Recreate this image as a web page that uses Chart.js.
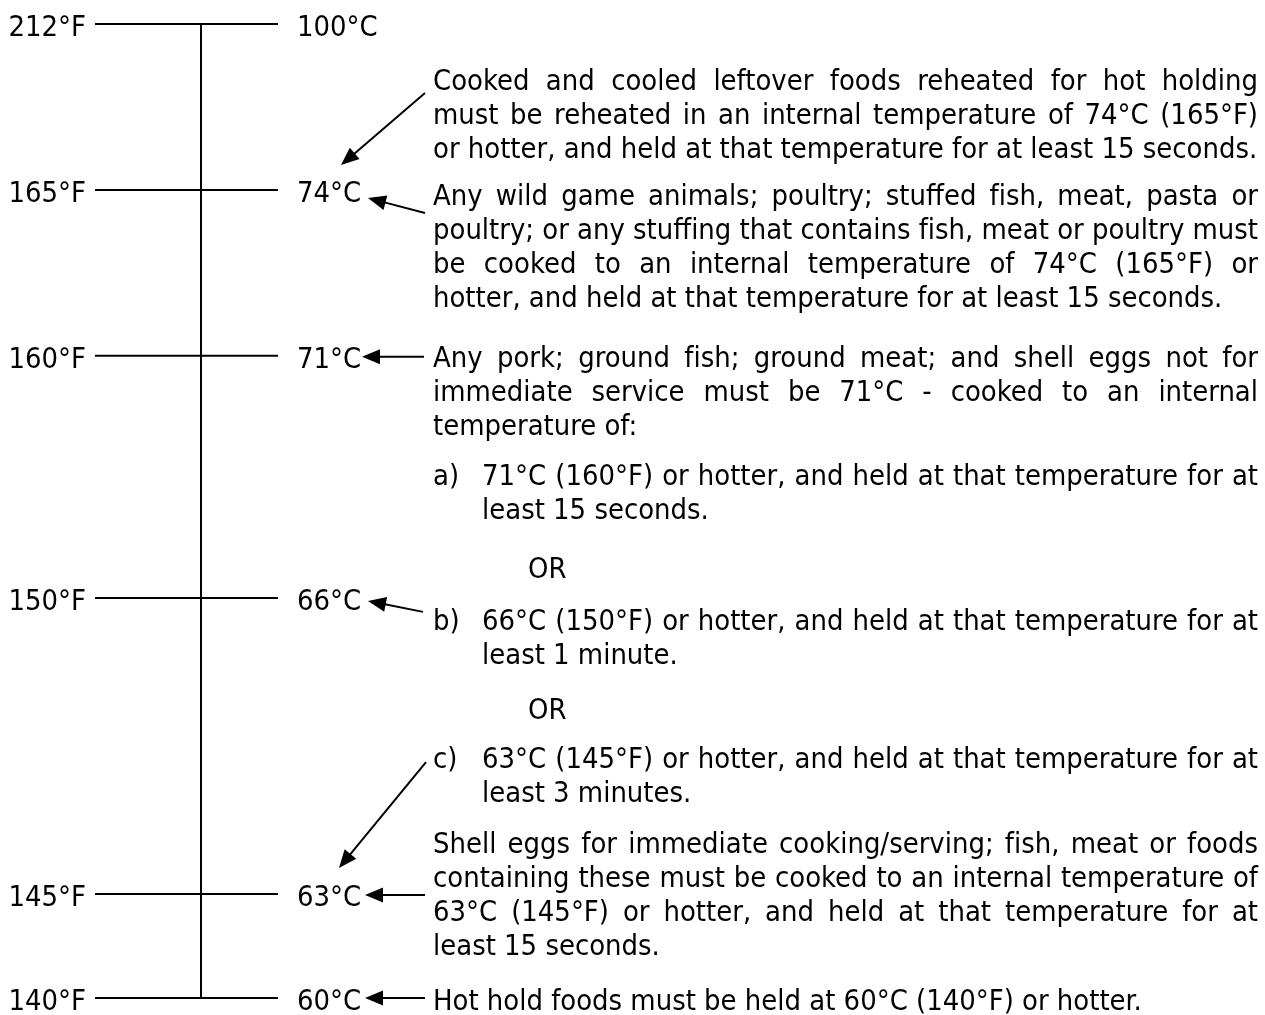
<!DOCTYPE html>
<html>
<head>
<meta charset="utf-8">
<script src="https://cdn.jsdelivr.net/npm/chart.js@4/dist/chart.umd.min.js"></script>
<style>
  html, body { margin: 0; padding: 0; background: #fff; }
  canvas { display: block; }
</style>
</head>
<body>
<canvas id="myChart" width="1265" height="1015"></canvas>
<script>
// temperature levels, top to bottom
var fahrenheit = ["212°F", "165°F", "160°F", "150°F", "145°F", "140°F"];
var celsius = ["100°C", "74°C", "71°C", "66°C", "63°C", "60°C"];
// where each level sits on the row scale (1 row = one text line)
var levelRow = [0, 4.88, 9.76, 16.88, 25.59, 28.65];

// the notes, one array of lines per block
var notes = [
  ["Cooked and cooled leftover foods reheated for hot holding",
   "must be reheated in an internal temperature of 74°C (165°F)",
   "or hotter, and held at that temperature for at least 15 seconds."],
  ["Any wild game animals; poultry; stuffed fish, meat, pasta or",
   "poultry; or any stuffing that contains fish, meat or poultry must",
   "be cooked to an internal temperature of 74°C (165°F) or",
   "hotter, and held at that temperature for at least 15 seconds."],
  ["Any pork; ground fish; ground meat; and shell eggs not for",
   "immediate service must be 71°C - cooked to an internal",
   "temperature of:"],
  ["71°C (160°F) or hotter, and held at that temperature for at",
   "least 15 seconds."],
  ["OR"],
  ["66°C (150°F) or hotter, and held at that temperature for at",
   "least 1 minute."],
  ["OR"],
  ["63°C (145°F) or hotter, and held at that temperature for at",
   "least 3 minutes."],
  ["Shell eggs for immediate cooking/serving; fish, meat or foods",
   "containing these must be cooked to an internal temperature of",
   "63°C (145°F) or hotter, and held at that temperature for at",
   "least 15 seconds."],
  ["Hot hold foods must be held at 60°C (140°F) or hotter."]
];
var noteMarker = ["", "", "", "a)", "", "b)", "", "c)", "", ""];

// layout of the blocks
var noteRow = [1.94, 5.32, 10.09, 13.56, 16.29, 17.82, 20.44, 21.88, 24.38, 29.0];
var noteLeft = [433, 433, 433, 482, 528, 482, 528, 482, 433, 433];
var noteRight = 1258;
var markerLeft = 433;

// arrows: from the note to the celsius label  [x, row]
var arrowFrom = [[425, 2.03], [425, 5.56], [424, 9.79], [423, 17.29], [426, 21.71], [425, 25.62], [425, 28.65]];
var arrowTo = [[341, 4.15], [368, 5.12], [362, 9.79], [368, 16.97], [339, 24.82], [365, 25.62], [365, 28.65]];

var rungX = [95, 278];
var spineX = 201;
var fLabelX = 86;
var cLabelX = 297;
var labelDrop = 0.35;

var family = 'Tahoma, "DejaVu Sans Condensed", "DejaVu Sans", sans-serif';
var fontPx = 27.5;
var hotLineWidth = 714; // width of the last note line in the original
var hs = 1;

// no fi / fl ligatures, like the original
function plain(s) { return s.replace(/f(?=[il])/g, "f\u200C"); }
function tw(ctx, s) { return ctx.measureText(plain(s)).width * hs; }
// draw text squeezed horizontally by hs (or k)
function put(ctx, s, x, y, k) {
  ctx.save();
  ctx.translate(x, y);
  ctx.scale(k || hs, 1);
  ctx.fillText(plain(s), 0, 0);
  ctx.restore();
}

function drawLine(ctx, text, x0, yb, width, justify) {
  var natural = tw(ctx, text);
  if (!justify) {
    put(ctx, text, x0, yb, natural > width ? hs * width / natural : hs);
    return;
  }
  var words = text.split(" ");
  var ws = words.map(function (w) { return tw(ctx, w); });
  var total = ws.reduce(function (a, b) { return a + b; }, 0);
  var gap = (width - total) / (words.length - 1);
  if (gap < tw(ctx, " ") * 0.5) {
    put(ctx, text, x0, yb, hs * width / natural);
    return;
  }
  var cx = x0;
  words.forEach(function (w, i) {
    put(ctx, w, cx, yb);
    cx += ws[i] + gap;
  });
}

var diagramPlugin = {
  id: "diagram",
  afterDatasetsDraw: function (chart) {
    var ctx = chart.ctx;
    var xs = chart.scales.x, ys = chart.scales.y;
    var px = function (v) { return xs.getPixelForValue(v); };
    var py = function (v) { return ys.getPixelForValue(v); };
    ctx.save();
    ctx.fillStyle = "#000";
    ctx.strokeStyle = "#000";
    ctx.font = fontPx + "px " + family;
    ctx.textBaseline = "alphabetic";
    hs = 1;
    hs = Math.max(0.85, Math.min(1.05, hotLineWidth / tw(ctx, notes[9][0])));

    // level labels
    levelRow.forEach(function (r, i) {
      ctx.textAlign = "right";
      put(ctx, fahrenheit[i], px(fLabelX), py(r + labelDrop));
      ctx.textAlign = "left";
      put(ctx, celsius[i], px(cLabelX), py(r + labelDrop));
    });

    // notes
    ctx.textAlign = "left";
    notes.forEach(function (lines, b) {
      if (noteMarker[b]) put(ctx, noteMarker[b], px(markerLeft), py(noteRow[b]));
      var left = px(noteLeft[b]);
      var width = px(noteRight) - left;
      lines.forEach(function (line, k) {
        var last = k === lines.length - 1;
        drawLine(ctx, line, left, py(noteRow[b] + k), width, !last);
      });
    });

    // arrows
    ctx.lineWidth = 2;
    arrowFrom.forEach(function (f, i) {
      var x0 = px(f[0]), y0 = py(f[1]);
      var x1 = px(arrowTo[i][0]), y1 = py(arrowTo[i][1]);
      var a = Math.atan2(y1 - y0, x1 - x0);
      var len = 18, half = 7.5;
      ctx.beginPath();
      ctx.moveTo(x0, y0);
      ctx.lineTo(x1 - Math.cos(a) * (len - 2), y1 - Math.sin(a) * (len - 2));
      ctx.stroke();
      var bx = x1 - Math.cos(a) * len, by = y1 - Math.sin(a) * len;
      ctx.beginPath();
      ctx.moveTo(x1, y1);
      ctx.lineTo(bx + Math.sin(a) * half, by - Math.cos(a) * half);
      ctx.lineTo(bx - Math.sin(a) * half, by + Math.cos(a) * half);
      ctx.closePath();
      ctx.fill();
    });
    ctx.restore();
  }
};

// the ladder: one dataset per rung plus the spine
var datasets = levelRow.map(function (r, i) {
  return {
    label: fahrenheit[i] + " / " + celsius[i],
    data: [{ x: rungX[0], y: r }, { x: rungX[1], y: r }]
  };
});
datasets.push({
  label: "spine",
  data: [{ x: spineX, y: levelRow[0] }, { x: spineX, y: levelRow[levelRow.length - 1] }]
});
datasets.forEach(function (d) {
  d.borderColor = "#000";
  d.borderWidth = 2;
  d.pointRadius = 0;
  d.fill = false;
  d.tension = 0;
});

var ctx = document.getElementById("myChart").getContext("2d");
var myChart = new Chart(ctx, {
  type: "line",
  data: { datasets: datasets },
  options: {
    responsive: false,
    animation: false,
    layout: { padding: 0, autoPadding: false },
    plugins: { legend: { display: false }, tooltip: { enabled: false } },
    events: [],
    scales: {
      x: { type: "linear", min: 0, max: 1265, display: false },
      y: { type: "linear", min: -24 / 34, max: (1015 - 24) / 34, reverse: true, display: false }
    }
  },
  plugins: [diagramPlugin]
});
</script>
</body>
</html>
